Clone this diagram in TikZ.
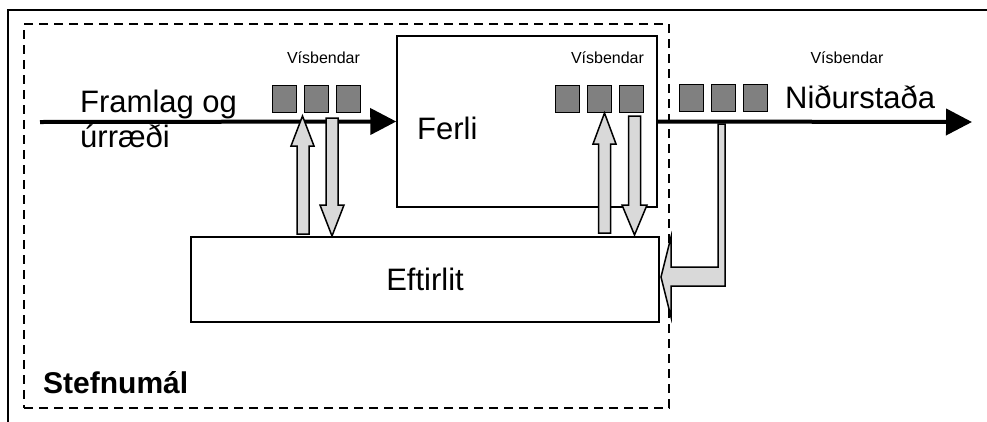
\documentclass[tikz,border=0pt]{standalone}
\usepackage{fontspec}
\setmainfont{Liberation Sans}
\usetikzlibrary{arrows.meta}
\definecolor{sqgray}{RGB}{128,128,128}
\definecolor{arrgray}{RGB}{217,217,217}
\begin{document}
\begin{tikzpicture}[x=1pt,y=-1pt,
  box/.style={draw,line width=1.5pt,fill=white,inner sep=0pt},
  big/.style={font=\fontsize{31}{35}\selectfont,inner sep=0pt},
  small/.style={font=\fontsize{16}{18}\selectfont,inner sep=0pt},
  sq/.style={draw,line width=1.5pt,fill=sqgray,minimum width=24pt,minimum height=27pt,inner sep=0pt},
  blk/.style={draw,line width=1.5pt,fill=arrgray,line join=miter},
  flow/.style={line width=4pt,-{Triangle[length=26pt,width=26pt]}},
  frame/.style={line width=1.5pt},
  dashframe/.style={draw,line width=2pt,dash pattern=on 9pt off 6pt,inner sep=0pt}]
\useasboundingbox (0,0) rectangle (987,421);
% outer frame (top and left edges)
\draw[frame] (8,425) -- (8,10) -- (995,10);
% dashed policy frame
\node[dashframe,minimum width=645pt,minimum height=384pt] (stefna) at (346.5,216) {};
% boxes
\node[box,minimum width=260pt,minimum height=171pt] (ferli) at (527,121.5) {};
\node[box,minimum width=468pt,minimum height=85pt] (eft) at (425,279.5) {};
% flow
\coordinate (start) at (40,122);
\coordinate (end) at (972,122);
\draw[flow] (start) -- (ferli.west);
\draw[flow] (ferli.east) -- (end);
% squares
\foreach \n/\x/\y in {a1/284.5/99,a2/316.5/99,a3/348.5/99,
                      b1/567.5/99,b2/599.5/99,b3/631.5/99,
                      c1/691.5/98,c2/723.5/98,c3/755.5/98}
  \node[sq] (\n) at (\x,\y) {};
% block arrows
\draw[blk] (297,234) -- (297,146) -- (291,146) -- (302.5,116) -- (314,146) -- (309,146) -- (309,234) -- cycle;
\draw[blk] (326,118) -- (326,205) -- (320,205) -- (332,236) -- (344,205) -- (338,205) -- (338,118) -- cycle;
\draw[blk] (598.5,233) -- (598.5,144) -- (593,144) -- (604.5,113) -- (616,144) -- (610.5,144) -- (610.5,233) -- cycle;
\draw[blk] (628.5,116) -- (628.5,205) -- (622,205) -- (634.5,235) -- (647,205) -- (640.5,205) -- (640.5,116) -- cycle;
\draw[blk] (718,124) -- (718,267) -- (671,267) -- (671,237) -- (661,277) -- (671,317) -- (671,286) -- (725,286) -- (725,124) -- cycle;
% texts
\node[small,anchor=base] (v1) at (323.5,63) {Vísbendar};
\node[small,anchor=base] (v2) at (607.5,63) {Vísbendar};
\node[small,anchor=base] (v3) at (847,63) {Vísbendar};
\node[big,anchor=base west] (fr1) at (80,112) {Framlag og};
\node[big,anchor=base west] (fr2) at (80,147) {úrræði};
\node[big,anchor=base west] (ferlit) at (417,139) {Ferli};
\node[big,anchor=base west] (nid) at (785,108) {Niðurstaða};
\node[big] (eftt) at (eft.center) {Eftirlit};
\node[big,anchor=base west,font=\fontsize{30}{34}\selectfont\bfseries] (stef) at (43,393) {Stefnumál};
\end{tikzpicture}
\end{document}
